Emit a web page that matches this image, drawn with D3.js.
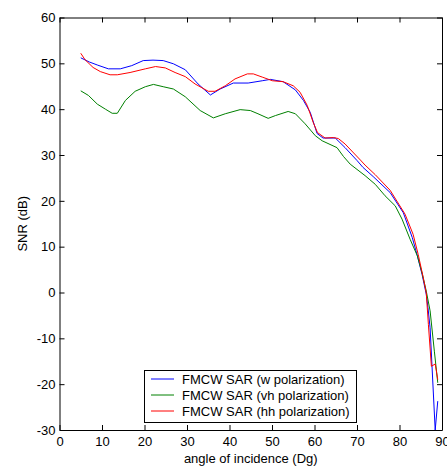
<!DOCTYPE html>
<html>
<head>
<meta charset="utf-8">
<script src="https://cdn.jsdelivr.net/npm/d3@7"></script>
<style>
  body { margin: 0; background: #fff; }
  svg { display: block; font-family: "Liberation Sans", Arial, sans-serif; }
</style>
</head>
<body>
<svg id="chart" width="447" height="467"></svg>
<script>
// angle of incidence (deg) and SNR (dB)
const vvAngle = [5, 7, 9, 11.5, 14.3, 17, 19.7, 22, 24.4, 26.8, 29.6, 32.6, 35.5, 37.8, 40.9, 44.4, 47.7, 49.6, 52.6, 55.5, 57.4, 59, 60.6, 62, 64.9, 67.2, 70, 71.4, 73.8, 77.8, 80.9, 83, 84.2, 85.3, 86.3, 86.7, 87.2, 88.4, 89];
const vvSnr   = [51.2, 50.3, 49.6, 48.8, 48.8, 49.5, 50.6, 50.7, 50.6, 49.9, 48.6, 45.5, 43.1, 44.4, 45.7, 45.7, 46.2, 46.5, 46.0, 44.2, 41.9, 39.3, 34.7, 33.7, 33.7, 31.6, 28.8, 27.3, 25.3, 21.8, 17.4, 12.0, 8.0, 4.0, -0.4, -3.3, -7.7, -30, -23.7];

const vhAngle = [5, 6.8, 8.9, 10.8, 12.4, 13.6, 15.5, 17.8, 20.2, 22.1, 24.4, 26.8, 29.6, 33.1, 36.2, 39, 42.5, 44.9, 46.7, 49.1, 50.8, 53.8, 55.5, 57.8, 60.2, 61.8, 65.3, 66.8, 68.4, 71.9, 74.3, 76.6, 79, 80.6, 82.5, 84.2, 85.3, 86.3, 87.2, 88.2, 89];
const vhSnr   = [44.0, 43.0, 41.1, 40.0, 39.1, 39.1, 41.9, 43.9, 44.9, 45.4, 44.9, 44.4, 42.7, 39.7, 38.1, 39.0, 39.9, 39.7, 39.0, 38.0, 38.6, 39.5, 39.0, 36.8, 34.2, 33.1, 31.6, 29.7, 28.0, 25.5, 23.6, 21.1, 18.9, 16.0, 11.6, 8.0, 4.3, 0.3, -4.0, -12.8, -19.7];

const hhAngle = [5, 6, 7.9, 9.6, 11.9, 13.6, 16.6, 20.2, 22.6, 24.9, 27.2, 29.6, 31.9, 35, 36.6, 39, 41.3, 44.2, 45.6, 47.7, 50.1, 52.6, 55, 56.6, 58.3, 59.7, 60.7, 62.5, 64.4, 65.6, 67.2, 70.8, 71.9, 74.3, 77.8, 81.3, 83.2, 84.4, 85.6, 86.3, 86.8, 87.5, 88.4, 89];
const hhSnr   = [52.2, 50.8, 49.1, 48.2, 47.5, 47.5, 48.0, 48.8, 49.3, 49.0, 48.0, 47.1, 45.5, 43.9, 43.9, 45.1, 46.6, 47.7, 47.7, 47.0, 46.2, 46.0, 45.1, 43.7, 40.8, 37.1, 34.9, 33.7, 33.8, 33.6, 32.4, 28.9, 27.8, 25.7, 22.3, 17.1, 12.7, 8.3, 3.2, -0.1, -7.0, -16.1, -15.6, -19.0];

const seriesNames = ["FMCW SAR (w polarization)", "FMCW SAR (vh polarization)", "FMCW SAR (hh polarization)"];
const seriesColors = ["#0000ff", "#008000", "#ff0000"];
const xTicks = [0, 10, 20, 30, 40, 50, 60, 70, 80, 90];
const yTicks = [-30, -20, -10, 0, 10, 20, 30, 40, 50, 60];

const series = [
  { angle: vvAngle, snr: vvSnr },
  { angle: vhAngle, snr: vhSnr },
  { angle: hhAngle, snr: hhSnr }
];

const svg = d3.select("#chart");
const plotLeft = 59.5, plotRight = 442, plotTop = 17.5, plotBottom = 430;
const fontSize = "13px";

const x = d3.scaleLinear().domain([0, 90]).range([plotLeft, plotRight]);
const y = d3.scaleLinear().domain([-30, 60]).range([plotBottom, plotTop]);

// clip lines to the axes box
svg.append("clipPath").attr("id", "clip")
  .append("rect")
  .attr("x", plotLeft).attr("y", plotTop)
  .attr("width", plotRight - plotLeft).attr("height", plotBottom - plotTop);

const line = d3.line()
  .x(d => x(d[0]))
  .y(d => y(d[1]));

svg.append("g").attr("clip-path", "url(#clip)")
  .selectAll("path")
  .data(series)
  .enter()
  .append("path")
  .attr("fill", "none")
  .attr("stroke", (d, i) => seriesColors[i])
  .attr("stroke-width", 1)
  .attr("d", d => line(d.angle.map((a, i) => [a, d.snr[i]])));

// axes, ticks pointing inward, box all round; plain hyphen for negatives
const plain = d => String(d);
const tickLen = 5;
const bottomAxis = svg.append("g")
  .attr("transform", `translate(0,${plotBottom})`)
  .call(d3.axisBottom(x).tickValues(xTicks).tickFormat(plain).tickSize(-tickLen).tickPadding(7).tickSizeOuter(0));
const topAxis = svg.append("g")
  .attr("transform", `translate(0,${plotTop})`)
  .call(d3.axisTop(x).tickValues(xTicks).tickSize(-tickLen).tickFormat("").tickSizeOuter(0));
const leftAxis = svg.append("g")
  .attr("transform", `translate(${plotLeft},0)`)
  .call(d3.axisLeft(y).tickValues(yTicks).tickFormat(plain).tickSize(-tickLen).tickPadding(4).tickSizeOuter(0));
const rightAxis = svg.append("g")
  .attr("transform", `translate(${plotRight},0)`)
  .call(d3.axisRight(y).tickValues(yTicks).tickSize(-tickLen).tickFormat("").tickSizeOuter(0));

[bottomAxis, topAxis, leftAxis, rightAxis].forEach(g => {
  g.selectAll("path, line").attr("stroke", "#000");
  g.selectAll("text").attr("fill", "#000")
    .style("font-family", "'Liberation Sans', Arial, sans-serif")
    .style("font-size", fontSize);
});

// axis labels
svg.append("text")
  .attr("x", (plotLeft + plotRight) / 2)
  .attr("y", 463)
  .attr("text-anchor", "middle")
  .style("font-size", fontSize)
  .text("angle of incidence (Dg)");

svg.append("text")
  .attr("transform", `translate(27,${(plotTop + plotBottom) / 2}) rotate(-90)`)
  .attr("text-anchor", "middle")
  .style("font-size", fontSize)
  .text("SNR (dB)");

// legend
const legend = svg.append("g");
legend.append("rect")
  .attr("x", 144.5).attr("y", 370.5)
  .attr("width", 212).attr("height", 52)
  .attr("fill", "#fff")
  .attr("stroke", "#000");

seriesNames.forEach((name, i) => {
  const ly = 379 + i * 16;
  legend.append("line")
    .attr("x1", 151).attr("x2", 174)
    .attr("y1", ly).attr("y2", ly)
    .attr("stroke", seriesColors[i]);
  legend.append("text")
    .attr("x", 182).attr("y", ly + 4.5)
    .style("font-size", fontSize)
    .text(name);
});
</script>
</body>
</html>
